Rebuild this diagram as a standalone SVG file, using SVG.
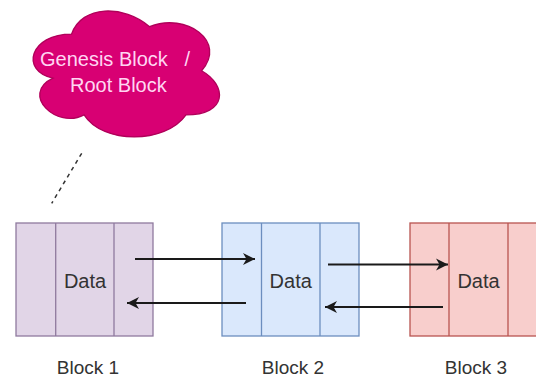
<svg xmlns="http://www.w3.org/2000/svg" width="536" height="381" viewBox="0 0 536 381">
  <defs>
    <marker id="arr" markerUnits="userSpaceOnUse" markerWidth="16" markerHeight="16" viewBox="-13 -8 16 16" refX="0" refY="0" orient="auto">
      <path d="M0,0 L-12,-6 L-8.5,0 L-12,6 Z" fill="#1a1a1a"/>
    </marker>
    <style>
      .lbl { font-family: "Liberation Sans", Arial, sans-serif; fill: #333333; text-anchor: middle; }
      .data { font-size: 20px; }
      .name { font-size: 19px; }
      .b1 { fill: #e1d5e7; stroke: #8f7a9e; stroke-width: 1.3; }
      .b2 { fill: #dae8fc; stroke: #6c8ebf; stroke-width: 1.3; }
      .b3 { fill: #f8cecc; stroke: #b85450; stroke-width: 1.3; }
      .conn { stroke: #1a1a1a; stroke-width: 2; fill: none; marker-end: url(#arr); }
    </style>
  </defs>
  <rect width="536" height="381" fill="#ffffff"/>

  <g id="genesis">
    <path d="M71.6,34.05 C30,34.05 19.6,70.8 52.9,78.15 C19.6,94.3 57,129.6 84.1,114.9 C102.8,144.3 165.2,144.3 186,114.9 C227.6,114.9 227.6,85.5 201.6,70.8 C227.6,41.4 186,12 149.6,26.7 C123.6,4.65 82,4.65 71.6,34.05 Z" fill="#d80073" stroke="#b0005a" stroke-width="1.3"/>
    <text xml:space="preserve" font-family="&quot;Liberation Sans&quot;, Arial, sans-serif" font-size="20" fill="#ffd6f2"><tspan x="40" y="66">Genesis Block   /</tspan><tspan x="70" y="92">Root Block</tspan></text>
  </g>

  <g id="block1">
    <rect class="b1" x="16" y="223" width="137" height="113"/>
    <line class="b1" x1="55.7" y1="223" x2="55.7" y2="336"/>
    <line class="b1" x1="114" y1="223" x2="114" y2="336"/>
    <text class="lbl data" x="85" y="288">Data</text>
    <text class="lbl name" x="88" y="374">Block 1</text>
  </g>

  <g id="block2">
    <rect class="b2" x="222" y="223" width="137" height="113"/>
    <line class="b2" x1="261.5" y1="223" x2="261.5" y2="336"/>
    <line class="b2" x1="320" y1="223" x2="320" y2="336"/>
    <text class="lbl data" x="290.7" y="288">Data</text>
    <text class="lbl name" x="293" y="374">Block 2</text>
  </g>

  <g id="block3">
    <rect class="b3" x="410" y="223" width="137" height="113"/>
    <line class="b3" x1="449" y1="223" x2="449" y2="336"/>
    <line class="b3" x1="508" y1="223" x2="508" y2="336"/>
    <text class="lbl data" x="478.5" y="288">Data</text>
    <text class="lbl name" x="476" y="374">Block 3</text>
  </g>

  <g id="connectors">
    <line x1="81.7" y1="153.3" x2="51.7" y2="203.3" stroke="#333333" stroke-width="1.5" stroke-dasharray="4,4"/>
    <line class="conn" x1="135" y1="259" x2="255" y2="259"/>
    <line class="conn" x1="246" y1="303" x2="127" y2="303"/>
    <line class="conn" x1="328" y1="264.5" x2="448" y2="264.5"/>
    <line class="conn" x1="443" y1="307" x2="325" y2="307"/>
  </g>
</svg>
